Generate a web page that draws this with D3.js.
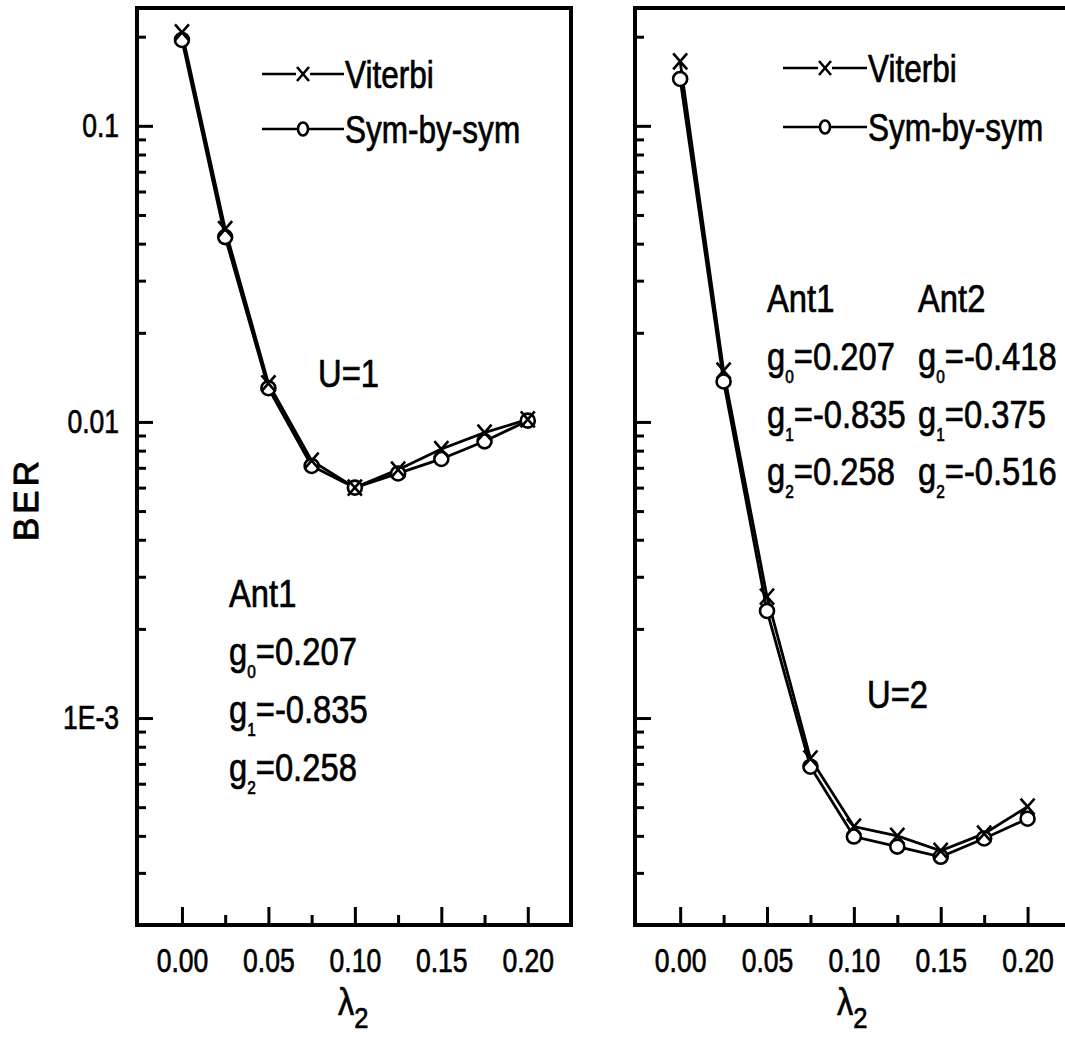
<!DOCTYPE html>
<html>
<head>
<meta charset="utf-8">
<script src="https://cdn.jsdelivr.net/npm/d3@7"></script>
<style>
  body { margin: 0; background: #fff; }
  svg { display: block; font-family: 'Liberation Sans', Arial, sans-serif; }
</style>
</head>
<body>
<script>
// values
const lambda2 = [0, 0.025, 0.05, 0.075, 0.10, 0.125, 0.15, 0.175, 0.20];
const viterbiU1 = [0.207, 0.0448, 0.0135, 0.0074, 0.0060, 0.0069, 0.0081, 0.0092, 0.0102];
const symU1 = [0.195, 0.0421, 0.0130, 0.0071, 0.0060, 0.0067, 0.0075, 0.0086, 0.0101];
const viterbiU2 = [0.165, 0.0149, 0.00257, 0.00073, 0.00043, 0.00040, 0.000356, 0.000407, 0.000502];
const symU2 = [0.144, 0.0137, 0.0023, 0.000685, 0.000398, 0.000368, 0.00034, 0.000392, 0.000457];

const xMajor = [0, 0.05, 0.10, 0.15, 0.20];
const xMinor = [0.025, 0.075, 0.125, 0.175];
const yMajor = [0.1, 0.01, 0.001];
const yLabels = ['0.1', '0.01', '1E-3'];
const seriesNames = ['Viterbi', 'Sym-by-sym'];

const ant1 = [['g', '0', '=0.207'], ['g', '1', '=-0.835'], ['g', '2', '=0.258']];
const ant2 = [['g', '0', '=-0.418'], ['g', '1', '=0.375'], ['g', '2', '=-0.516']];

const W = 1065, H = 1037;
const plotTop = 8, plotBottom = 925;

const svg = d3.select('body').append('svg')
  .attr('width', W).attr('height', H);
svg.append('rect').attr('width', W).attr('height', H).attr('fill', '#fff');

const y = d3.scaleLog().domain([2e-4, 0.25]).range([plotBottom, plotTop]);

// narrow helvetica-like text: squeeze a normal sans horizontally
function ctext(g, x, yy, parts, size, sx, anchor) {
  const t = g.append('text')
    .attr('transform', `translate(${x},${yy}) scale(${sx},1)`)
    .attr('font-size', size)
    .attr('text-anchor', anchor || 'start')
    .attr('fill', '#000').attr('stroke', '#000').attr('stroke-width', 0.7);
  let down = false;
  parts.forEach(p => {
    const sub = typeof p === 'object';
    const s = sub ? p.sub : p;
    const ts = t.append('tspan').text(s);
    if (sub) {
      ts.attr('font-size', size * 0.47).attr('dy', 13);
      down = true;
    } else if (down) {
      ts.attr('dy', -13);
      down = false;
    }
  });
  return t;
}

function gRow(row) {
  return [row[0], { sub: row[1] }, row[2]];
}

function drawPanel(p) {
  const x = d3.scaleLinear().domain([-0.026, 0.225]).range([p.x0, p.x1]);
  const g = svg.append('g');

  // ticks
  const xa = g.append('g').attr('transform', `translate(0,${plotBottom})`);
  xa.append('g').call(d3.axisBottom(x).tickValues(xMinor).tickSize(-10).tickFormat(''));
  xa.append('g').call(d3.axisBottom(x).tickValues(xMajor).tickSize(-18)
    .tickPadding(23).tickFormat(d3.format('.2f')));

  const yMinor = y.ticks().filter(d => Math.abs(Math.log10(d) - Math.round(Math.log10(d))) > 1e-6);
  const ya = g.append('g').attr('transform', `translate(${p.x0},0)`);
  ya.append('g').call(d3.axisLeft(y).tickValues(yMinor).tickSize(-9).tickFormat(''));
  ya.append('g').call(d3.axisLeft(y).tickValues(yMajor).tickSize(-16)
    .tickPadding(23).tickFormat((d, i) => p.yLabels ? yLabels[i] : ''));

  g.selectAll('.domain').remove();
  g.selectAll('.tick line').attr('stroke', '#000').attr('stroke-width', 3);
  g.selectAll('.tick text')
    .attr('font-family', 'Liberation Sans, Arial, sans-serif')
    .attr('font-size', 34).attr('fill', '#000')
    .attr('stroke', '#000').attr('stroke-width', 0.7)
    .attr('transform', 'scale(0.78,1)');

  // frame
  g.append('rect')
    .attr('x', p.x0).attr('y', plotTop)
    .attr('width', p.x1 - p.x0).attr('height', plotBottom - plotTop)
    .attr('fill', 'none').attr('stroke', '#000').attr('stroke-width', 4);

  // curves
  const line = d3.line().x((d, i) => x(lambda2[i])).y(d => y(d));
  [p.sym, p.vit].forEach(s => {
    g.append('path').attr('d', line(s))
      .attr('fill', 'none').attr('stroke', '#000').attr('stroke-width', 2.8);
  });
  g.selectAll('circle.pt').data(p.sym).join('circle')
    .attr('class', 'pt')
    .attr('cx', (d, i) => x(lambda2[i])).attr('cy', d => y(d)).attr('r', 7)
    .attr('fill', '#fff').attr('stroke', '#000').attr('stroke-width', 2.6);
  g.selectAll('path.xm').data(p.vit).join('path')
    .attr('class', 'xm')
    .attr('transform', (d, i) => `translate(${x(lambda2[i])},${y(d)})`)
    .attr('d', 'M-7,-8L7,8M-7,8L7,-8')
    .attr('fill', 'none').attr('stroke', '#000').attr('stroke-width', 2.6);

  // legend
  const L = p.legend;
  seriesNames.forEach((name, i) => {
    const ly = L.y[i];
    g.append('line').attr('x1', L.x0).attr('x2', L.x1).attr('y1', ly).attr('y2', ly)
      .attr('stroke', '#000').attr('stroke-width', 2.6);
    const mx = (L.x0 + L.x1) / 2;
    if (i === 0) {
      g.append('rect').attr('x', mx - 7).attr('y', ly - 7).attr('width', 14).attr('height', 14).attr('fill', '#fff');
      g.append('path').attr('transform', `translate(${mx},${ly})`)
        .attr('d', 'M-6,-7L6,7M-6,7L6,-7')
        .attr('stroke', '#000').attr('stroke-width', 2.6);
    } else {
      g.append('ellipse').attr('cx', mx).attr('cy', ly).attr('rx', 5).attr('ry', 6.5)
        .attr('fill', '#fff').attr('stroke', '#000').attr('stroke-width', 2.6);
    }
    ctext(g, L.x1 + 1, ly + 14, [name], 38, 0.83);
  });

  // x axis title
  const c = (p.x0 + p.x1) / 2;
  const tl = g.append('text')
    .attr('transform', `translate(${c - 16},1015) scale(0.85,1)`)
    .attr('font-size', 38).attr('fill', '#000')
    .attr('stroke', '#000').attr('stroke-width', 0.7);
  tl.append('tspan').text('λ');
  tl.append('tspan').text('2').attr('font-size', 30).attr('dy', 13);

  p.notes(g);
}

drawPanel({
  x0: 137, x1: 571, vit: viterbiU1, sym: symU1, yLabels: true,
  legend: { x0: 262, x1: 344, y: [74, 129] },
  notes: g => {
    ctext(g, 318, 387, ['U=1'], 39, 0.84);
    ctext(g, 229, 607, ['Ant1'], 39, 0.84);
    ant1.forEach((r, i) => ctext(g, 229, 665 + i * 58, gRow(r), 39, 0.84));
  }
});

drawPanel({
  x0: 635, x1: 1071, vit: viterbiU2, sym: symU2, yLabels: false,
  legend: { x0: 783, x1: 867, y: [68, 127] },
  notes: g => {
    ctext(g, 867, 708, ['U=2'], 39, 0.84);
    ctext(g, 767, 312, ['Ant1'], 39, 0.84);
    ctext(g, 918, 312, ['Ant2'], 39, 0.84);
    ant1.forEach((r, i) => ctext(g, 767, 370 + i * 57.5, gRow(r), 39, 0.84));
    ant2.forEach((r, i) => ctext(g, 918, 370 + i * 57.5, gRow(r), 39, 0.84));
  }
});

// y axis title
svg.append('text')
  .attr('transform', 'translate(38,499) rotate(-90)')
  .attr('text-anchor', 'middle')
  .attr('font-size', 35).attr('letter-spacing', 4).attr('fill', '#000')
  .attr('stroke', '#000').attr('stroke-width', 1)
  .text('BER');
</script>
</body>
</html>
